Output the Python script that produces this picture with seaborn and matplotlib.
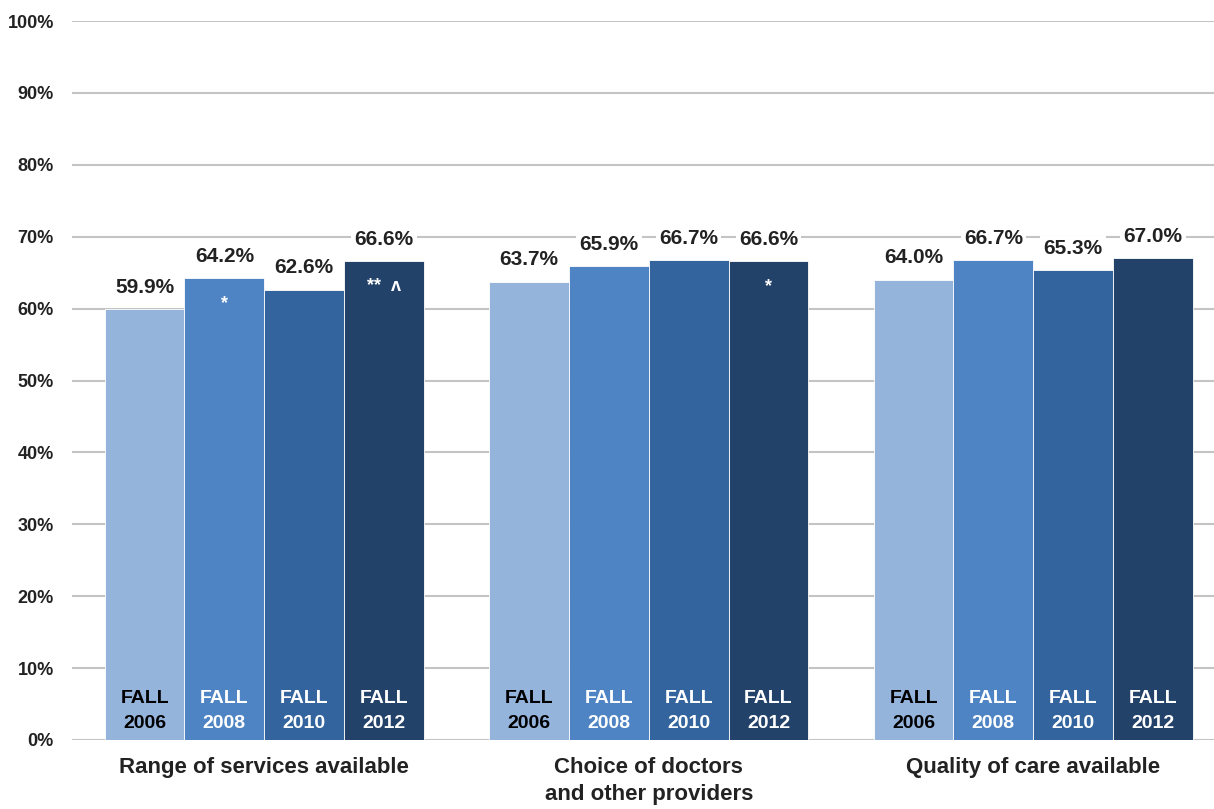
import matplotlib
matplotlib.use("Agg")
import matplotlib.pyplot as plt
import seaborn as sns
import pandas as pd

# ================================
# DATA
# ================================
categories = ["Range of services available",
              "Choice of doctors\nand other providers",
              "Quality of care available"]
years = ["FALL\n2006", "FALL\n2008", "FALL\n2010", "FALL\n2012"]
fall_2006 = [59.9, 63.7, 64.0]
fall_2008 = [64.2, 65.9, 66.7]
fall_2010 = [62.6, 66.7, 65.3]
fall_2012 = [66.6, 66.6, 67.0]
# significance markers drawn inside the bars
markers_2008 = ["*", "", ""]
markers_2012 = ["**  \u028C", "*", ""]
y_ticks = [0, 10, 20, 30, 40, 50, 60, 70, 80, 90, 100]

colors = ["#95B4DC", "#4E84C4", "#33649D", "#23426A"]
year_text_colors = ["black", "white", "white", "white"]

series = [fall_2006, fall_2008, fall_2010, fall_2012]
markers = [[""] * 3, markers_2008, [""] * 3, markers_2012]

df = pd.DataFrame({
    "category": [c for _ in years for c in categories],
    "year": [y for y in years for _ in categories],
    "value": [v for s in series for v in s],
})

# ================================
# PLOT
# ================================
sns.set_style("white")
plt.rcParams["font.family"] = ["Liberation Sans", "DejaVu Sans"]
plt.rcParams["font.weight"] = "bold"

fig = plt.figure(figsize=(12.14, 8.09), dpi=100)
ax = fig.add_axes([72 / 1214, 69 / 809, 1 - 72 / 1214, (740 - 21) / 809])

sns.barplot(data=df, x="category", y="value", hue="year", palette=colors,
            width=0.83, saturation=1, edgecolor="white", linewidth=0.6,
            legend=False, ax=ax, zorder=3)

ax.set_ylim(0, 100)
ax.set_xlim(-0.5, 2.47)
ax.set_yticks(y_ticks)
ax.set_yticklabels([f"{t}%" for t in y_ticks], fontsize=13, fontweight="bold",
                   color="#222222")
ax.yaxis.grid(True, color="#C4C4C4", linewidth=1.5, zorder=0)
ax.set_axisbelow(True)
for s in ax.spines.values():
    s.set_visible(False)
ax.tick_params(axis="y", length=0, pad=13)
ax.tick_params(axis="x", length=0, pad=12)
ax.set_xticks(range(len(categories)))
ax.set_xticklabels(categories, fontsize=16, fontweight="bold", color="#222222",
                   linespacing=1.4, va="top")
ax.set_xlabel("")
ax.set_ylabel("")

for i, cont in enumerate(ax.containers):
    for j, bar in enumerate(cont):
        cx = bar.get_x() + bar.get_width() / 2
        h = bar.get_height()
        ax.annotate(f"{h:.1f}%", (cx, h), xytext=(0, 9), textcoords="offset points",
                    ha="center", va="bottom", fontsize=15, fontweight="bold",
                    color="#222222", zorder=5,
                    bbox=dict(boxstyle="square,pad=0.15", fc="white", ec="none"))
        if markers[i][j]:
            ax.annotate(markers[i][j], (cx, h), xytext=(0, -12), textcoords="offset points",
                        ha="center", va="top", fontsize=13, fontweight="bold",
                        color="white", zorder=5)
        ax.text(cx, 4.0, years[i], ha="center", va="center", fontsize=14,
                fontweight="bold", color=year_text_colors[i], linespacing=1.6,
                zorder=5)

fig.savefig("out.png", dpi=100)
